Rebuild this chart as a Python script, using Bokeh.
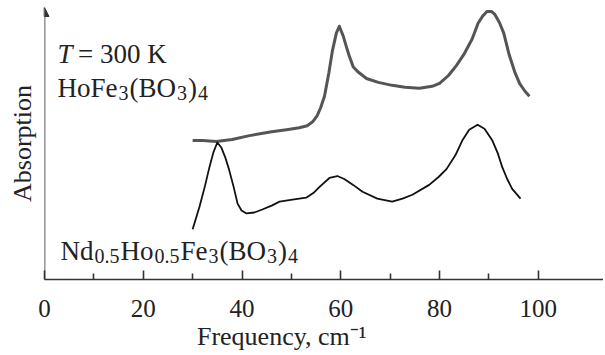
import math
from bokeh.plotting import figure
from bokeh.models import Range1d, FixedTicker, Label, Arrow, NormalHead
from bokeh.embed import file_html
from bokeh.resources import INLINE

# ---- data (absorption in arbitrary units) ----
upper_freq = [30.0, 32.0, 34.8, 38.0, 41.5, 46.0, 49.0, 51.6, 53.2, 54.3, 55.2, 55.9,
              56.7, 57.6, 58.3, 59.1, 59.7, 60.5, 61.2, 61.7, 62.5, 63.4, 65.2, 67.6,
              70.4, 73.0, 75.9, 78.5, 80.0, 81.8, 83.4, 85.0, 86.6, 87.8, 88.7, 89.6,
              90.5, 91.2, 92.1, 93.0, 94.1, 95.2, 96.2, 97.3, 98.2]
upper_abs = [141, 141, 140, 142, 146, 150, 152, 154, 156, 160, 166, 174,
             186, 210, 232, 250, 257, 247, 235, 227, 216, 211, 204, 200,
             197, 195, 194, 196, 199, 207, 217, 229, 244, 260, 267, 272,
             272, 269, 261, 250, 228, 211, 199, 191, 186]

lower_freq = [30.0, 31.4, 32.5, 33.4, 34.2, 35.0, 35.8, 36.6, 37.4, 38.3, 39.1, 39.9,
              40.9, 42.5, 44.1, 46.0, 47.6, 50.2, 53.0, 54.5, 55.7, 57.7, 59.3, 60.7,
              62.5, 64.4, 67.4, 70.4, 72.5, 74.5, 77.9, 79.8, 81.4, 83.2, 84.6, 86.0,
              87.7, 89.1, 90.7, 91.8, 92.7, 93.7, 94.7, 96.4]
lower_abs = [51, 74, 95, 114, 129, 139, 134, 124, 111, 94, 77, 70,
             67, 68, 71, 75, 79, 81, 83, 88, 94, 103, 105, 102,
             96, 89, 82, 79, 82, 86, 96, 104, 112, 126, 141, 152,
             157, 153, 141, 128, 114, 102, 92, 82]

x_major_ticks = [0, 20, 40, 60, 80, 100]
x_minor_ticks = [10, 30, 50, 70, 90]
x_tick_labels = ["0", "20", "40", "60", "80", "100"]

# ---- layout ----
W, H = 603, 353
FONT = "Liberation Serif"
TXT = "#222222"
S = 27      # main font px
SS = 20     # subscript font px

p = figure(width=W, height=H, output_backend="svg", toolbar_location=None,
           x_range=Range1d(0, 113.2), y_range=Range1d(0, 276),
           min_border_left=44, min_border_right=0, min_border_top=7,
           min_border_bottom=H - 283)
p.outline_line_color = None
p.grid.visible = False

ya = p.yaxis[0]
ya.ticker = FixedTicker(ticks=[])
ya.axis_line_color = None
ya.axis_label = "Absorption"
ya.axis_label_text_font = FONT
ya.axis_label_text_font_size = "26px"
ya.axis_label_text_font_style = "normal"
ya.axis_label_text_color = TXT
ya.axis_label_standoff = 8

xa = p.xaxis[0]
xa.ticker = FixedTicker(ticks=x_major_ticks, minor_ticks=x_minor_ticks)
xa.major_label_overrides = {t: l for t, l in zip(x_major_ticks, x_tick_labels)}
xa.axis_line_color = "#333333"
xa.axis_line_width = 1.6
xa.major_tick_line_color = "#333333"
xa.major_tick_line_width = 1.6
xa.minor_tick_line_color = "#333333"
xa.minor_tick_line_width = 1.6
xa.major_tick_in = 9
xa.major_tick_out = 0
xa.minor_tick_in = 6
xa.minor_tick_out = 0
xa.major_label_standoff = 20
xa.major_label_text_font = FONT
xa.major_label_text_font_size = "25px"
xa.major_label_text_color = TXT
xa.axis_label = "Frequency, cm\u207b\u00b9" + "\u00a0" * 13
xa.axis_label_text_font = FONT
xa.axis_label_text_font_size = "26px"
xa.axis_label_text_font_style = "normal"
xa.axis_label_text_color = TXT
xa.axis_label_standoff = 2

# y axis line with arrow
p.add_layout(Arrow(end=NormalHead(size=9, fill_color="#333333", line_color="#333333"),
                   x_start=0, y_start=0, x_end=0, y_end=276,
                   line_color="#333333", line_width=1.6))

# curves
p.line(upper_freq, upper_abs, line_color="#555555", line_width=3, line_join="round")
p.line(lower_freq, lower_abs, line_color="#111111", line_width=1.8, line_join="round")

# ---- text inside the frame (pixels relative to frame lower-left corner) ----
FX0, FY0 = 45, 284


def put(text, px, py, size=S, style="normal"):
    p.add_layout(Label(x=px - FX0, y=FY0 - py, x_units="screen", y_units="screen",
                       text=text, text_font=FONT,
                       text_font_size=f"{size}px", text_font_style=style,
                       text_color=TXT, text_align="left",
                       text_baseline="alphabetic"))


def rich(pieces, px, py):
    x = px
    for text, kind, adv in pieces:
        if kind == "n":
            put(text, x, py)
            x += adv * S / 1000
        elif kind == "i":
            put(text, x, py, style="italic")
            x += adv * S / 1000
        elif kind == "b":
            put(text, x + 1, py + 5, size=SS)
            x += adv * SS / 1000 + 2


rich([("T", "i", 760), ("= 300 K", "n", 0)], 58, 58)
rich([("HoFe", "n", 2222), ("3", "b", 500), ("(BO", "n", 1722), ("3", "b", 500),
      (")", "n", 333), ("4", "b", 500)], 58, 92)
rich([("Nd", "n", 1222), ("0.5", "b", 1250), ("Ho", "n", 1222), ("0.5", "b", 1250),
      ("Fe", "n", 1000), ("3", "b", 500), ("(BO", "n", 1722), ("3", "b", 500),
      (")", "n", 333), ("4", "b", 500)], 61, 255)

open("out.html", "w").write(file_html(p, INLINE))
